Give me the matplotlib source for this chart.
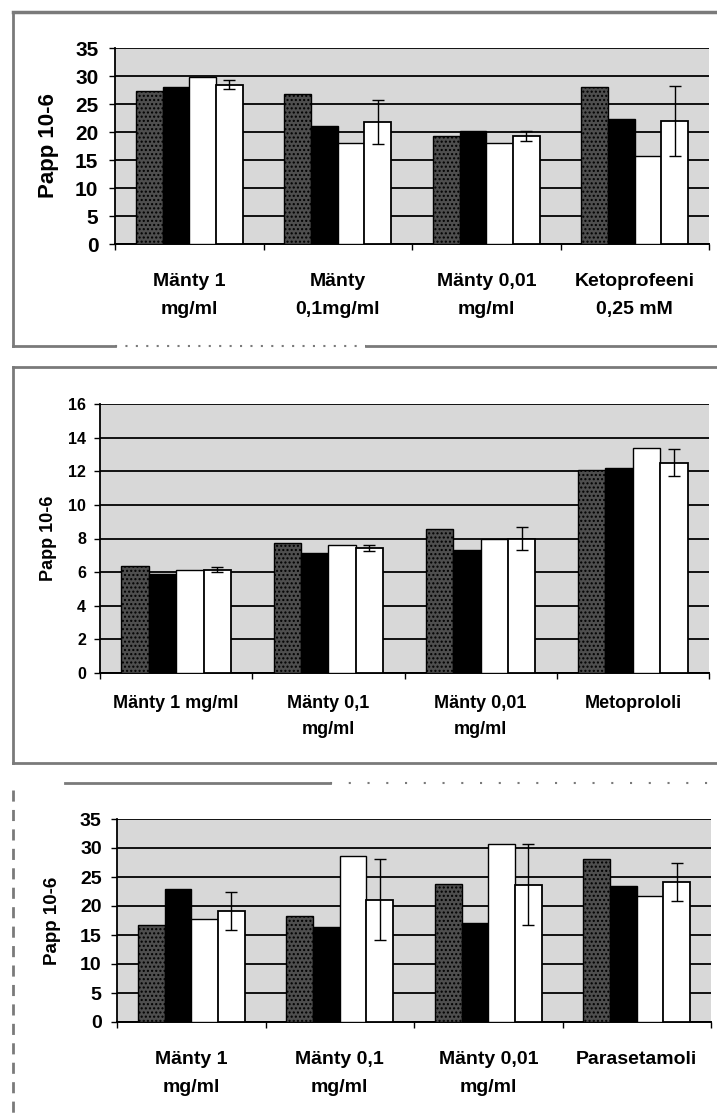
import numpy as np
import matplotlib
matplotlib.use("Agg")
import matplotlib.pyplot as plt
from matplotlib.lines import Line2D

plt.rcParams['font.family'] = ['Liberation Sans', 'DejaVu Sans']
plt.rcParams['font.weight'] = 'bold'
plt.rcParams['hatch.color'] = '#8a8a8a'
plt.rcParams['hatch.linewidth'] = 1.0

# --- data ---
labels1 = ["Mänty 1\nmg/ml", "Mänty\n0,1mg/ml", "Mänty 0,01\nmg/ml", "Ketoprofeeni\n0,25 mM"]
p1_s1 = [27.4, 26.7, 19.3, 28.1]
p1_s2 = [28.0, 21.1, 20.2, 22.3]
p1_s3 = [29.8, 18.1, 18.1, 15.7]
p1_s4 = [28.4, 21.8, 19.3, 22.0]
p1_err = [0.8, 4.0, 0.9, 6.3]

labels2 = ["Mänty 1 mg/ml", "Mänty 0,1\nmg/ml", "Mänty 0,01\nmg/ml", "Metoprololi"]
p2_s1 = [6.35, 7.76, 8.55, 12.1]
p2_s2 = [5.9, 7.13, 7.33, 12.2]
p2_s3 = [6.15, 7.6, 7.96, 13.4]
p2_s4 = [6.15, 7.43, 8.0, 12.5]
p2_err = [0.15, 0.2, 0.7, 0.8]

labels3 = ["Mänty 1\nmg/ml", "Mänty 0,1\nmg/ml", "Mänty 0,01\nmg/ml", "Parasetamoli"]
p3_s1 = [16.8, 18.3, 23.8, 28.05]
p3_s2 = [23.0, 16.3, 17.1, 23.4]
p3_s3 = [17.8, 28.6, 30.7, 21.7]
p3_s4 = [19.1, 21.1, 23.7, 24.2]
p3_err = [3.3, 7.0, 7.0, 3.3]

W, H = 717, 1119
fig = plt.figure(figsize=(W / 100, H / 100), dpi=100)


def box(l, t, r, b):
    return [l / W, 1 - b / H, (r - l) / W, (b - t) / H]


def panel(rect, labels, s1, s2, s3, s4, err, ymax, ystep,
          tfs, tpad, lfs, lpad, lsp, yfs, ylx):
    ax = fig.add_axes(rect)
    ax.set_facecolor('#d8d8d8')
    ax.patch.set_hatch('....')
    x = np.arange(len(labels))
    w = 0.18
    ax.bar(x - 1.5 * w, s1, w, color='#4e4e4e', edgecolor='black', hatch='....', lw=1, zorder=3)
    ax.bar(x - 0.5 * w, s2, w, color='black', edgecolor='black', lw=1, zorder=3)
    ax.bar(x + 0.5 * w, s3, w, color='white', edgecolor='black', lw=1, zorder=3)
    ax.bar(x + 1.5 * w, s4, w, color='white', edgecolor='black', lw=1.3, zorder=3,
           yerr=err, error_kw=dict(ecolor='black', elinewidth=1, capsize=4, capthick=1))
    ax.set_xlim(-0.5, 3.5)
    ax.set_ylim(0, ymax)
    ax.set_yticks(np.arange(0, ymax + 0.1, ystep))
    ax.yaxis.grid(True, color='#111111', lw=1.4)
    ax.set_axisbelow(True)
    ax.set_xticks(x)
    ax.set_xticklabels(labels, fontsize=lfs, linespacing=lsp)
    ax.set_xticks(np.arange(-0.5, 3.6, 1), minor=True)
    ax.tick_params(axis='x', which='major', length=0, pad=lpad)
    ax.tick_params(axis='x', which='minor', length=4, width=1, direction='out')
    ax.tick_params(axis='y', length=4, width=1, labelsize=tfs, pad=tpad)
    for s in ['top', 'right']:
        ax.spines[s].set_visible(False)
    ax.spines['left'].set_linewidth(1.3)
    ax.spines['bottom'].set_linewidth(1.4)
    ax.set_ylabel('Papp 10-6', fontsize=yfs, fontweight='bold')
    ax.yaxis.set_label_coords(ylx, 0.5)
    return ax


panel(box(115, 48, 709, 244), labels1, p1_s1, p1_s2, p1_s3, p1_s4, p1_err, 35, 5,
      15, 8, 14, 21, 1.85, 16, -0.095)
panel(box(100, 404, 709, 673), labels2, p2_s1, p2_s2, p2_s3, p2_s4, p2_err, 16, 2,
      11.5, 6, 13, 16, 1.7, 13, -0.07)
panel(box(117, 819, 711, 1022), labels3, p3_s1, p3_s2, p3_s3, p3_s4, p3_err, 35, 5,
      14, 7, 14, 21, 1.8, 13.5, -0.095)


def fline(xs, ys, **kw):
    fig.add_artist(Line2D([v / W for v in xs], [1 - v / H for v in ys],
                          transform=fig.transFigure, color='#7a7a7a', **kw))


# scanned page frames
fline([13, 717], [12, 12], lw=2.5)
fline([13, 13], [12, 346], lw=2)
fline([13, 115], [346, 346], lw=2)
fline([115, 366], [346, 346], lw=1.5, ls=(0, (1, 4)))
fline([366, 717], [346, 346], lw=2)
fline([13, 717], [367, 367], lw=2)
fline([13, 13], [367, 763], lw=2)
fline([13, 717], [763, 763], lw=2)
fline([65, 330], [783, 783], lw=2)
fline([330, 717], [783, 783], lw=1.5, ls=(0, (1, 8)))
fline([13, 13], [790, 1119], lw=2, ls=(0, (4, 3)))

fig.savefig('out.png', dpi=100)
